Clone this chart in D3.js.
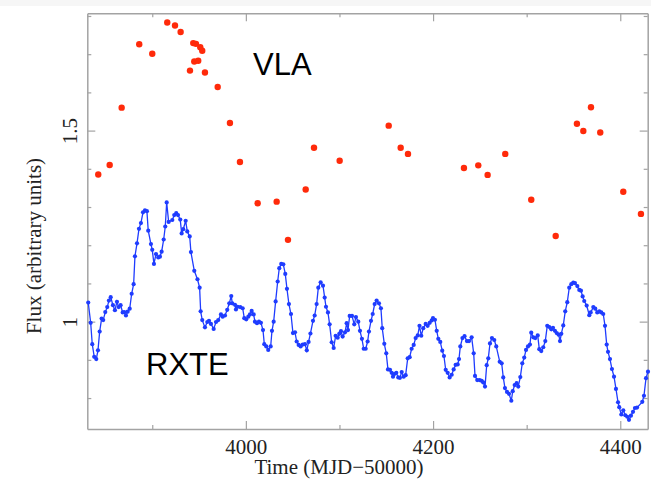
<!DOCTYPE html>
<html>
<head>
<meta charset="utf-8">
<script src="https://cdn.jsdelivr.net/npm/d3@7"></script>
<style>
body { margin: 0; background: #fff; }
</style>
</head>
<body>
<div id="chart"></div>
<script>
// RXTE light curve (time in MJD-50000, flux in arbitrary units)
const rxteTime = [
3831.6,3834.2,3835.9,3838.0,3840.2,3842.0,3843.8,3845.9,3847.6,3849.8,
3851.9,3853.7,3855.6,3858.0,3860.1,3862.3,3864.1,3866.2,3868.4,3870.1,
3871.9,3873.7,3875.9,3878.0,3880.1,3881.5,3883.7,3885.8,3887.9,3890.1,
3892.2,3894.3,3895.7,3898.6,3900.0,3901.8,3904.0,3906.4,3908.2,3910.0,
3912.2,3913.9,3915.4,3917.5,3921.4,3923.5,3925.6,3927.5,3929.9,3931.4,
3933.1,3935.7,3937.4,3940.0,3941.3,3944.9,3948.3,3950.6,3951.7,3953.4,
3956.3,3958.8,3960.6,3962.7,3965.6,3968.1,3970.5,3973.4,3975.2,3977.7,
3980.1,3982.3,3984.4,3985.5,3988.4,3989.4,3991.2,3994.0,3996.6,3998.3,
4000.4,4002.6,4004.4,4006.2,4008.3,4009.7,4011.9,4014.0,4016.1,4018.3,
4019.7,4021.8,4023.9,4026.5,4027.9,4029.7,4031.8,4034.0,4035.7,4037.8,
4040.0,4042.1,4043.9,4046.0,4048.2,4050.3,4052.5,4054.3,4056.4,4058.5,
4060.7,4063.1,4065.1,4067.0,4069.0,4071.7,4073.5,4075.6,4077.4,4079.9,
4082.4,4084.2,4085.6,4087.7,4089.5,4091.7,4093.8,4095.9,4098.1,4099.8,
4101.6,4103.4,4105.9,4107.7,4109.1,4110.9,4113.4,4115.8,4117.6,4120.1,
4121.9,4124.0,4125.9,4128.0,4130.1,4131.5,4133.7,4135.5,4137.6,4139.7,
4142.2,4144.3,4145.7,4147.9,4150.0,4151.8,4154.0,4155.8,4157.2,4158.6,
4160.7,4162.8,4164.6,4166.5,4168.6,4170.7,4172.9,4175.0,4177.1,4179.3,
4181.4,4183.6,4185.5,4187.4,4189.5,4192.1,4194.2,4196.4,4198.5,4199.9,
4202.0,4203.9,4205.6,4207.7,4209.8,4211.6,4213.5,4215.6,4217.7,4219.9,
4222.0,4224.1,4226.3,4227.7,4229.1,4231.4,4233.6,4236.2,4238.4,4241.2,
4243.4,4244.8,4247.2,4249.8,4251.9,4253.6,4255.5,4257.3,4259.0,4260.8,
4262.9,4265.4,4267.5,4271.2,4273.3,4275.0,4276.8,4279.0,4281.1,4283.6,
4285.1,4287.2,4289.3,4291.0,4293.2,4295.3,4297.4,4299.3,4301.4,4303.5,
4304.9,4307.1,4309.2,4311.8,4313.5,4315.6,4317.7,4319.9,4322.0,4324.2,
4326.3,4328.1,4330.2,4332.1,4334.2,4335.6,4337.0,4339.1,4341.2,4343.4,
4345.5,4347.7,4349.8,4351.6,4354.1,4356.2,4358.0,4359.8,4361.5,4364.1,
4366.9,4368.4,4371.2,4373.3,4375.4,4377.6,4379.7,4381.8,4383.7,4385.5,
4386.9,4389.0,4391.1,4393.3,4395.4,4397.6,4398.9,4401.1,4403.2,4405.4,
4407.5,4409.3,4411.4,4413.6,4415.7,4417.9,4423.5,4425.3,4427.5,4429.6
];
const rxteFlux = [
1.050,0.997,0.941,0.908,0.902,0.925,0.974,1.008,1.004,1.025,
1.038,1.055,1.064,1.043,1.030,1.052,1.038,1.043,1.024,1.025,
1.016,1.026,1.034,1.073,1.098,1.171,1.205,1.243,1.258,1.286,
1.291,1.289,1.238,1.203,1.188,1.151,1.177,1.168,1.170,1.183,
1.215,1.249,1.312,1.261,1.266,1.279,1.284,1.279,1.267,1.231,
1.242,1.264,1.236,1.223,1.182,1.133,1.111,1.089,1.027,1.004,
0.985,0.999,1.002,0.994,0.981,0.999,1.004,1.019,1.013,1.016,
1.031,1.048,1.067,1.048,1.044,1.032,1.039,1.038,1.035,1.009,
1.006,1.013,1.019,1.028,1.019,1.000,0.996,1.000,0.997,0.978,
0.941,0.935,0.926,0.935,0.976,1.000,1.053,1.105,1.140,1.151,
1.150,1.125,1.086,1.046,1.020,0.970,0.972,0.948,0.939,0.935,
0.940,0.941,0.925,0.947,0.969,1.002,1.016,1.046,1.089,1.103,
1.094,1.063,1.039,1.024,0.993,0.946,0.931,0.963,0.958,0.968,
0.975,0.961,0.972,0.996,0.978,1.015,1.015,0.993,1.012,1.000,
0.976,0.955,0.929,0.929,0.948,0.974,1.002,1.020,1.046,1.055,
1.048,1.035,0.983,0.942,0.917,0.875,0.874,0.866,0.856,0.863,
0.866,0.854,0.853,0.868,0.856,0.860,0.904,0.907,0.929,0.939,
0.957,0.964,0.989,0.963,0.983,0.994,0.989,0.997,1.003,1.009,
1.005,0.976,0.955,0.947,0.924,0.910,0.874,0.866,0.854,0.861,
0.875,0.887,0.888,0.902,0.935,0.957,0.962,0.949,0.949,0.959,
0.917,0.858,0.847,0.847,0.845,0.841,0.830,0.886,0.904,0.943,
0.957,0.952,0.935,0.895,0.891,0.854,0.826,0.816,0.811,0.793,
0.818,0.834,0.839,0.830,0.855,0.891,0.906,0.926,0.935,0.940,
0.971,0.959,0.957,0.964,0.928,0.923,0.933,0.949,0.989,0.986,
0.980,0.984,0.976,0.970,0.966,0.949,0.968,0.990,1.027,1.051,
1.089,1.098,1.102,1.101,1.093,1.083,1.081,1.066,1.054,1.042,
1.017,1.024,1.038,1.034,1.024,1.027,1.024,1.020,0.989,0.940,
0.921,0.902,0.876,0.856,0.824,0.789,0.776,0.757,0.768,0.755,
0.751,0.743,0.754,0.764,0.774,0.775,0.790,0.806,0.852,0.869
];

// VLA radio points
const vlaTime = [3842.3,3854.5,3867.3,3886.1,3900.0,3916.0,3924.3,3930.3,3940.3,3943.8,
3944.9,3946.7,3949.1,3951.3,3953.4,3956.3,3969.9,3983.0,3993.7,4012.6,
4032.9,4045.0,4063.9,4072.8,4100.2,4152.6,4165.4,4173.2,4233.0,4248.3,
4258.3,4277.1,4304.9,4331.0,4353.7,4360.5,4368.7,4378.6,4403.2,4422.1];
const vlaFlux = [1.385,1.410,1.560,1.726,1.701,1.783,1.775,1.758,1.657,1.729,
1.681,1.727,1.683,1.718,1.709,1.652,1.614,1.520,1.418,1.310,
1.314,1.214,1.346,1.455,1.421,1.513,1.455,1.439,1.402,1.409,
1.384,1.439,1.319,1.224,1.518,1.499,1.561,1.495,1.340,1.282];

const xMajor = [4000, 4200, 4400];
const xMinor = [3900, 4100, 4300];
const yMajor = [1, 1.5];
const yMinor = [0.8, 0.9, 1.1, 1.2, 1.3, 1.4, 1.6, 1.7, 1.8];

const W = 651, H = 480;
const plotL = 87.3, plotR = 647.7, plotT = 13.3, plotB = 429;
const serif = "'Liberation Serif', 'Times New Roman', serif";
const sans = "'Liberation Sans', Arial, sans-serif";
const axisColor = "#a3a3a3";
const fontSize = 21;

const svg = d3.select("#chart").append("svg")
  .attr("width", W).attr("height", H);

// faint screenshot edge
svg.append("rect").attr("x", 0).attr("y", 0).attr("width", W).attr("height", 6)
  .attr("fill", "#f6f6f6");

const x = d3.scaleLinear().domain([3830.6, 4429.3]).range([plotL, plotR]);
const y = d3.scaleLinear().domain([0.719, 1.807]).range([plotB, plotT]);

function styleAxis(g) {
  g.selectAll("path.domain").attr("stroke", axisColor).attr("stroke-width", 1.5);
}

// bottom axis with labels
const gB = svg.append("g").attr("transform", `translate(0,${plotB})`)
  .call(d3.axisBottom(x).tickValues(xMajor).tickSize(-8).tickSizeOuter(0).tickPadding(10)
    .tickFormat(d3.format("d")));
gB.selectAll("text").attr("font-family", serif).attr("font-size", fontSize).attr("fill", "#222");
svg.append("g").attr("transform", `translate(0,${plotB})`)
  .call(d3.axisBottom(x).tickValues(xMinor).tickSize(-4).tickSizeOuter(0).tickFormat(""))
  .call(g => g.select(".domain").remove());
styleAxis(gB);

// top axis (mirror ticks)
const gT = svg.append("g").attr("transform", `translate(0,${plotT})`)
  .call(d3.axisTop(x).tickValues(xMajor).tickSize(-8).tickSizeOuter(0).tickFormat(""));
svg.append("g").attr("transform", `translate(0,${plotT})`)
  .call(d3.axisTop(x).tickValues(xMinor).tickSize(-4).tickSizeOuter(0).tickFormat(""))
  .call(g => g.select(".domain").remove());
styleAxis(gT);

// left axis with rotated labels
const gL = svg.append("g").attr("transform", `translate(${plotL},0)`)
  .call(d3.axisLeft(y).tickValues(yMajor).tickSize(-8).tickSizeOuter(0)
    .tickFormat(d => d === 1 ? "1" : d3.format(".1f")(d)));
gL.selectAll("text")
  .attr("x", null).attr("dy", null)
  .attr("text-anchor", "middle")
  .attr("transform", "translate(-10,0) rotate(-90)")
  .attr("font-family", serif).attr("font-size", fontSize).attr("fill", "#222");
svg.append("g").attr("transform", `translate(${plotL},0)`)
  .call(d3.axisLeft(y).tickValues(yMinor).tickSize(-4).tickSizeOuter(0).tickFormat(""))
  .call(g => g.select(".domain").remove());
styleAxis(gL);

// right axis (mirror ticks)
const gR = svg.append("g").attr("transform", `translate(${plotR},0)`)
  .call(d3.axisRight(y).tickValues(yMajor).tickSize(-8).tickSizeOuter(0).tickFormat(""));
svg.append("g").attr("transform", `translate(${plotR},0)`)
  .call(d3.axisRight(y).tickValues(yMinor).tickSize(-4).tickSizeOuter(0).tickFormat(""))
  .call(g => g.select(".domain").remove());
styleAxis(gR);
svg.selectAll(".tick line").attr("stroke", axisColor).attr("stroke-width", 1.2);

// axis titles
svg.append("text")
  .attr("x", 339).attr("y", 474)
  .attr("text-anchor", "middle")
  .attr("font-family", serif).attr("font-size", fontSize).attr("fill", "#222")
  .text("Time (MJD\u221250000)");
svg.append("text")
  .attr("transform", "translate(41,246) rotate(-90)")
  .attr("text-anchor", "middle")
  .attr("font-family", serif).attr("font-size", fontSize).attr("fill", "#222")
  .text("Flux (arbitrary units)");

// RXTE line + dots
const rxte = rxteTime.map((t, i) => ({t: t, f: rxteFlux[i]}));
svg.append("path")
  .datum(rxte)
  .attr("fill", "none")
  .attr("stroke", "#1f3cff")
  .attr("stroke-width", 1.3)
  .attr("d", d3.line().x(d => x(d.t)).y(d => y(d.f)));
svg.append("g").selectAll("circle")
  .data(rxte).join("circle")
  .attr("cx", d => x(d.t)).attr("cy", d => y(d.f)).attr("r", 2.1)
  .attr("fill", "#1f3cff");

// VLA dots
const vla = vlaTime.map((t, i) => ({t: t, f: vlaFlux[i]}));
svg.append("g").selectAll("circle")
  .data(vla).join("circle")
  .attr("cx", d => x(d.t)).attr("cy", d => y(d.f)).attr("r", 3.2)
  .attr("fill", "#ff2a0a");

// series labels
svg.append("text").attr("x", 253).attr("y", 75)
  .attr("font-family", sans).attr("font-size", 31).attr("fill", "#000")
  .text("VLA");
svg.append("text").attr("x", 146).attr("y", 375)
  .attr("font-family", sans).attr("font-size", 31).attr("fill", "#000")
  .text("RXTE");
</script>
</body>
</html>
